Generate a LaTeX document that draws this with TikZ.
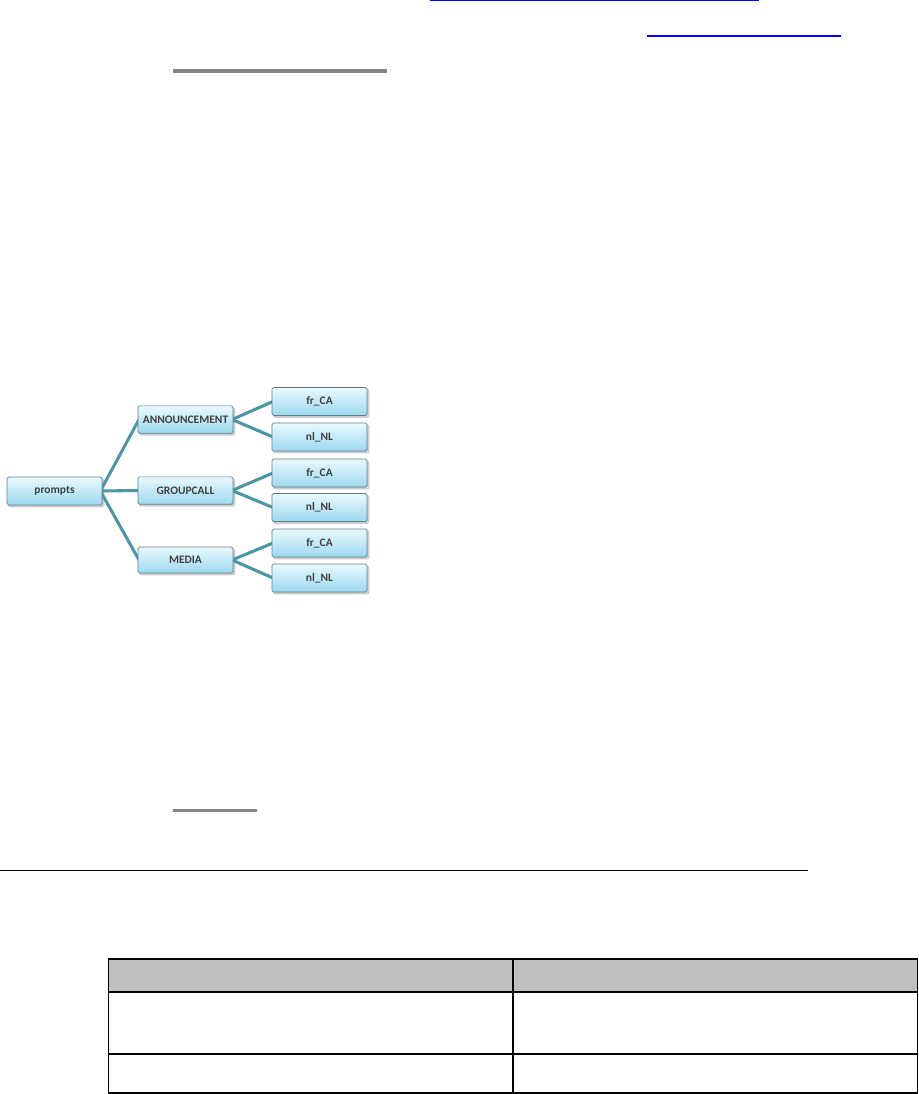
\documentclass[tikz,border=0pt]{standalone}
\usepackage{fontspec}
\setmainfont{Carlito}
\usetikzlibrary{backgrounds}
\definecolor{boxtop}{HTML}{EAF9FE}
\definecolor{boxbot}{HTML}{9CD9F0}
\definecolor{boxline}{HTML}{5F7F8C}
\definecolor{connc}{HTML}{4C96A6}
\begin{document}
\begin{tikzpicture}[x=0.75pt,y=-0.75pt,
  box/.style={draw=boxline, line width=0.5pt, rounded corners=1.2pt,
    top color=boxtop, bottom color=boxbot,
    minimum width=71.25pt, minimum height=20.5pt, inner sep=0pt,
    font=\bfseries\fontsize{8.6}{9}\selectfont, text=black!75},
  conn/.style={draw=connc, line width=2.3pt},
  link/.style={draw=blue, line width=0.9pt},
  rule/.style={draw=black!48, line width=2.3pt},
  tbl/.style={draw=black, line width=1.1pt}]
\useasboundingbox (0,0) rectangle (919,1094);
% top lines
\draw[link] (430,0.8) -- (759,0.8);
\draw[link] (647,36) -- (841,36);
\draw[rule] (173,71) -- (387,71);
% nodes
\node[box, minimum height=21pt] (prompts) at (54.5,491) {prompts};
\node[box] (ann) at (185.5,419.5) {ANNOUNCEMENT};
\node[box] (grp) at (185.5,490.5) {GROUPCALL};
\node[box, minimum height=19.5pt] (med) at (185.5,560) {MEDIA};
\node[box, minimum height=21pt] (a1) at (319.5,401.5) {fr\_CA};
\node[box, minimum height=21pt] (a2) at (319.5,437) {nl\_NL};
\node[box, minimum height=21pt] (g1) at (319.5,473) {fr\_CA};
\node[box, minimum height=21pt] (g2) at (319.5,507.5) {nl\_NL};
\node[box, minimum height=21pt] (m1) at (319.5,543) {fr\_CA};
\node[box, minimum height=21pt] (m2) at (319.5,578) {nl\_NL};
\begin{pgfonlayer}{background}
% shadows
\foreach \n in {prompts,ann,grp,med,a1,a2,g1,g2,m1,m2}{
  \fill[black!20, rounded corners=1.5pt] ([shift={(1.5,2)}]\n.north west) rectangle ([shift={(2,2)}]\n.south east);
}
% connectors
\draw[conn] ([xshift=-1.5pt]prompts.east) -- ([xshift=1pt]ann.west);
\draw[conn] ([xshift=-1.5pt]prompts.east) -- ([xshift=1pt]grp.west);
\draw[conn] ([xshift=-1.5pt]prompts.east) -- ([xshift=1pt]med.west);
\draw[conn] ([xshift=-1pt]ann.east) -- ([xshift=1pt]a1.west);
\draw[conn] ([xshift=-1pt]ann.east) -- ([xshift=1pt]a2.west);
\draw[conn] ([xshift=-1pt]grp.east) -- ([xshift=1pt]g1.west);
\draw[conn] ([xshift=-1pt]grp.east) -- ([xshift=1pt]g2.west);
\draw[conn] ([xshift=-1pt]med.east) -- ([xshift=1pt]m1.west);
\draw[conn] ([xshift=-1pt]med.east) -- ([xshift=1pt]m2.west);
\end{pgfonlayer}
% lower rules
\draw[rule] (173,810.5) -- (257,810.5);
\draw[draw=black, line width=1.4pt] (0,870.5) -- (808,870.5);
% table
\fill[black!25] (108,959) rectangle (918,992);
\draw[tbl] (108,959) -- (918,959);
\draw[tbl] (108,992) -- (918,992);
\draw[tbl] (108,1054) -- (918,1054);
\draw[tbl] (108,1093) -- (918,1093);
\draw[tbl] (108.5,959) -- (108.5,1093);
\draw[tbl] (513,959) -- (513,1093);
\draw[tbl] (917.5,959) -- (917.5,1093);
\end{tikzpicture}
\end{document}
